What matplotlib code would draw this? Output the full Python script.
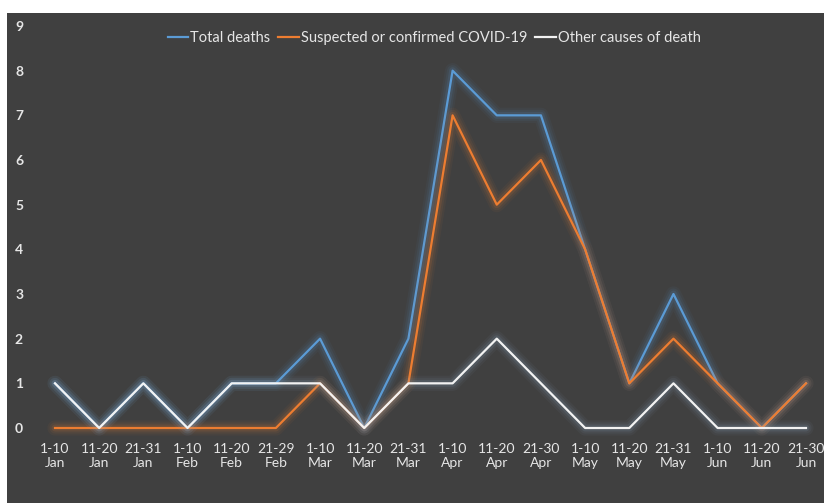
import matplotlib.pyplot as plt
from matplotlib.patches import Rectangle

# данные
periods = ["1-10\nJan", "11-20\nJan", "21-31\nJan", "1-10\nFeb", "11-20\nFeb", "21-29\nFeb",
           "1-10\nMar", "11-20\nMar", "21-31\nMar", "1-10\nApr", "11-20\nApr", "21-30\nApr",
           "1-10\nMay", "11-20\nMay", "21-31\nMay", "1-10\nJun", "11-20\nJun", "21-30\nJun"]
total_deaths = [1, 0, 1, 0, 1, 1, 2, 0, 2, 8, 7, 7, 4, 1, 3, 1, 0, 1]
covid_deaths = [0, 0, 0, 0, 0, 0, 1, 0, 1, 7, 5, 6, 4, 1, 2, 1, 0, 1]
other_deaths = [1, 0, 1, 0, 1, 1, 1, 0, 1, 1, 2, 1, 0, 0, 1, 0, 0, 0]
y_ticks = list(range(10))

plt.rcParams['font.family'] = ['Lato', 'DejaVu Sans']

bg = '#404040'
fig = plt.figure(figsize=(8.26, 5.03), dpi=100, facecolor='white')
fig.patches.append(Rectangle((7 / 826, 0), 817 / 826, 490 / 503, transform=fig.transFigure,
                             facecolor=bg, edgecolor='none', zorder=-5))

ax = fig.add_axes([55 / 826, 75 / 503, 751 / 826, 402 / 503])
ax.set_zorder(2)
ax.set_facecolor('none')
x = list(range(len(periods)))

series = [
    (total_deaths, '#5b9bd5', 'Total deaths'),
    (covid_deaths, '#ed7d31', 'Suspected or confirmed COVID-19'),
    (other_deaths, '#f2f2f2', 'Other causes of death'),
]
glow = {'#5b9bd5': '#5b9bd5', '#ed7d31': '#ed7d31', '#f2f2f2': '#8fb0cc'}

z = 2
for vals, col, lab in series:
    # свечение
    for lw, a in [(11, 0.05), (8, 0.07), (5, 0.12)]:
        ax.plot(x, vals, color=glow[col], lw=lw, alpha=a, clip_on=False, zorder=z,
                solid_joinstyle='round', solid_capstyle='round')
    ax.plot(x, vals, color=col, lw=1.6, label=lab, clip_on=False, zorder=z + 1)
    z += 2

ax.set_xlim(0, len(periods) - 1)
ax.set_ylim(0, 9)
ax.set_xticks(x)
ax.set_xticklabels(periods, color='#e6e6e6', fontsize=10, linespacing=1.15)
ax.set_yticks(y_ticks)
ax.set_yticklabels([str(v) for v in y_ticks], color='#e6e6e6', fontsize=10, fontweight='bold')
ax.tick_params(axis='x', length=0, pad=11)
ax.tick_params(axis='y', length=0, pad=23)
for s in ax.spines.values():
    s.set_visible(False)

leg = ax.legend(loc='upper center', bbox_to_anchor=(0.505, 1.02), ncol=3, frameon=False,
                fontsize=10.5, handlelength=1.4, handletextpad=0.15, columnspacing=0.55,
                labelcolor='#e6e6e6')

plt.savefig('out.png', dpi=100, facecolor=fig.get_facecolor())
